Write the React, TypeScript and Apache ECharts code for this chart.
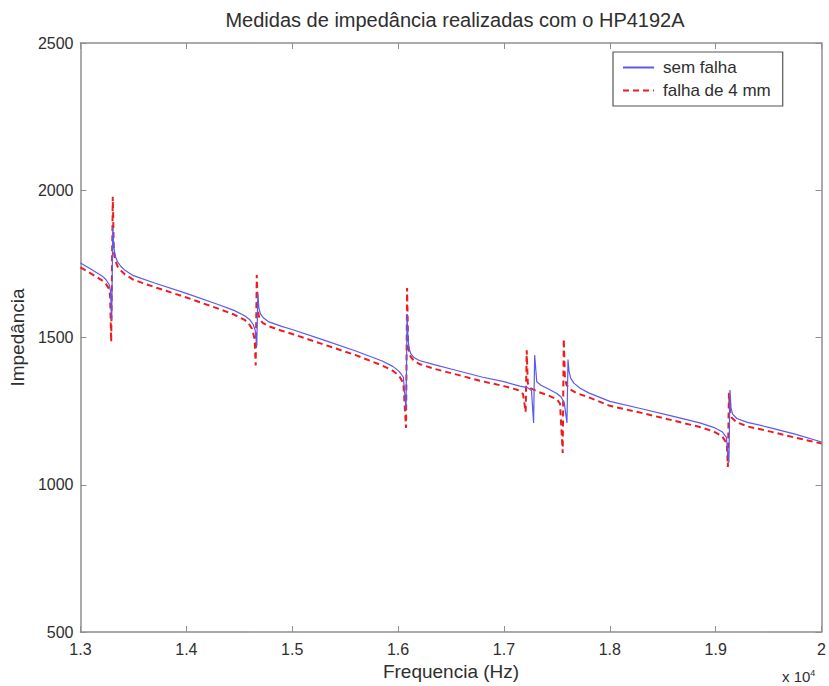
import React, { useEffect, useRef } from "react";
import * as echarts from "echarts";

const semFalhaX = [1.300,1.310,1.320,1.324,1.327,1.3285,1.3295,1.3305,1.3315,1.333,1.335,1.338,1.342,1.350,1.370,1.400,1.430,1.445,1.455,1.460,1.463,1.465,1.4665,1.4675,1.4685,1.470,1.473,1.478,1.490,1.500,1.530,1.560,1.585,1.595,1.601,1.605,1.6075,1.6085,1.6095,1.6105,1.612,1.615,1.620,1.635,1.650,1.680,1.700,1.715,1.722,1.726,1.728,1.729,1.731,1.735,1.742,1.750,1.754,1.757,1.7595,1.7605,1.7615,1.763,1.766,1.772,1.780,1.800,1.830,1.860,1.885,1.898,1.906,1.910,1.9125,1.9135,1.9145,1.916,1.920,1.930,1.950,1.975,2.000];
const semFalhaY = [1753,1732,1710,1697,1680,1655,1560,1875,1805,1775,1757,1742,1728,1710,1685,1650,1612,1592,1574,1560,1545,1525,1470,1650,1600,1580,1566,1553,1538,1527,1491,1454,1420,1402,1385,1365,1255,1580,1490,1462,1445,1432,1422,1407,1393,1365,1350,1335,1330,1320,1210,1440,1350,1338,1325,1310,1298,1278,1210,1425,1385,1362,1345,1328,1312,1283,1258,1232,1210,1195,1180,1162,1075,1322,1260,1240,1225,1212,1195,1172,1145];

const falhaX = [1.300,1.310,1.320,1.324,1.327,1.328,1.329,1.3305,1.3315,1.333,1.335,1.338,1.342,1.350,1.370,1.400,1.430,1.445,1.455,1.459,1.462,1.4645,1.4655,1.4665,1.4675,1.469,1.472,1.478,1.490,1.500,1.530,1.560,1.585,1.595,1.601,1.605,1.6075,1.6085,1.6095,1.611,1.614,1.620,1.635,1.650,1.680,1.700,1.713,1.718,1.7205,1.7215,1.7225,1.725,1.732,1.742,1.750,1.753,1.7555,1.7565,1.7575,1.759,1.762,1.768,1.780,1.800,1.830,1.860,1.885,1.898,1.906,1.9105,1.9115,1.9125,1.9135,1.915,1.920,1.930,1.950,1.975,2.000];
const falhaY = [1738,1717,1695,1682,1665,1640,1485,1978,1790,1760,1742,1728,1714,1696,1671,1636,1598,1578,1560,1547,1530,1495,1405,1712,1590,1565,1550,1538,1523,1512,1476,1440,1405,1387,1370,1345,1193,1668,1470,1440,1425,1410,1393,1379,1351,1335,1322,1308,1247,1457,1345,1328,1316,1303,1290,1275,1108,1495,1370,1340,1325,1312,1297,1268,1244,1218,1196,1181,1165,1140,1060,1312,1250,1228,1212,1198,1182,1160,1140];

const xTicks = [1.3, 1.4, 1.5, 1.6, 1.7, 1.8, 1.9, 2];
const yTicks = [500, 1000, 1500, 2000, 2500];

const FONT = "Liberation Sans, Arial, sans-serif";
const TXT = "#2e2e2e";

export default function App() {
  const ref = useRef<HTMLDivElement>(null);
  useEffect(() => {
    if (!ref.current) return;
    const chart = echarts.init(ref.current, null, { renderer: "svg" });
    const axisLine = { show: true, lineStyle: { color: "#8f8f8f", width: 1.5 } };
    const tick = { show: true, inside: true, length: 6, lineStyle: { color: "#8f8f8f", width: 1 } };
    const xFmt = (v: number) => {
      const s = xTicks.find((t) => Math.abs(t - v) < 1e-6);
      return s === undefined ? "" : String(s);
    };
    chart.setOption({
      animation: false,
      backgroundColor: "#ffffff",
      title: {
        text: "Medidas de impedância realizadas com o HP4192A",
        left: 450,
        textAlign: "center",
        top: 5,
        textStyle: { fontFamily: FONT, fontSize: 20, fontWeight: "normal", color: TXT },
      },
      legend: {
        orient: "vertical",
        left: 613,
        top: 52,
        padding: [7, 12, 7, 9],
        itemGap: 6,
        itemWidth: 31,
        itemHeight: 14,
        borderColor: "#555",
        borderWidth: 1.2,
        backgroundColor: "#fff",
        itemStyle: { opacity: 0 },
        textStyle: { fontFamily: FONT, fontSize: 17, color: TXT, padding: [0, 0, 0, 4] },
        data: ["sem falha", "falha de 4 mm"],
      },
      grid: { left: 78, right: 7, top: 43, bottom: 54 },
      xAxis: [
        {
          type: "value",
          min: 1.3,
          max: 2,
          interval: 0.1,
          position: "bottom",
          name: "Frequencia (Hz)",
          nameLocation: "middle",
          nameGap: 29,
          nameTextStyle: { fontFamily: FONT, fontSize: 19, color: TXT },
          axisLine,
          axisTick: tick,
          splitLine: { show: false },
          axisLabel: { formatter: xFmt, fontFamily: FONT, fontSize: 16, color: TXT, margin: 9 },
        },
        {
          type: "value",
          min: 1.3,
          max: 2,
          interval: 0.1,
          position: "top",
          axisLine,
          axisTick: tick,
          splitLine: { show: false },
          axisLabel: { show: false },
        },
      ],
      yAxis: [
        {
          type: "value",
          min: 500,
          max: 2500,
          interval: 500,
          position: "left",
          name: "Impedância",
          nameLocation: "middle",
          nameGap: 50,
          nameRotate: 90,
          nameTextStyle: { fontFamily: FONT, fontSize: 19, color: TXT },
          axisLine,
          axisTick: tick,
          splitLine: { show: false },
          axisLabel: {
            formatter: (v: number) => (yTicks.includes(v) ? String(v) : ""),
            fontFamily: FONT,
            fontSize: 16,
            color: TXT,
            margin: 7,
          },
        },
        {
          type: "value",
          min: 500,
          max: 2500,
          interval: 500,
          position: "right",
          axisLine,
          axisTick: tick,
          splitLine: { show: false },
          axisLabel: { show: false },
        },
      ],
      graphic: [
        {
          type: "text",
          left: 782,
          top: 668,
          style: {
            text: "x 10{s|4}",
            fontFamily: FONT,
            fontSize: 15,
            fill: TXT,
            rich: { s: { fontSize: 9, verticalAlign: "top", padding: [0, 0, 7, 0], fill: TXT, fontFamily: FONT } },
          },
        },
      ],
      series: [
        {
          name: "sem falha",
          type: "line",
          showSymbol: false,
          symbol: "none",
          xAxisIndex: 0,
          yAxisIndex: 0,
          data: semFalhaX.map((x, i) => [x, semFalhaY[i]]),
          lineStyle: { color: "#5a5aee", width: 1.2 },
          itemStyle: { color: "#5a5aee" },
          z: 3,
        },
        {
          name: "falha de 4 mm",
          type: "line",
          showSymbol: false,
          symbol: "none",
          xAxisIndex: 0,
          yAxisIndex: 0,
          data: falhaX.map((x, i) => [x, falhaY[i]]),
          lineStyle: { color: "#ee1c1c", width: 2, type: [6, 4] },
          itemStyle: { color: "#ee1c1c" },
          z: 2,
        },
      ],
    });
    return () => chart.dispose();
  }, []);
  return (
    <div
      ref={ref}
      style={{ position: "fixed", left: 0, top: 0, width: 829, height: 686, background: "#fff" }}
    />
  );
}
